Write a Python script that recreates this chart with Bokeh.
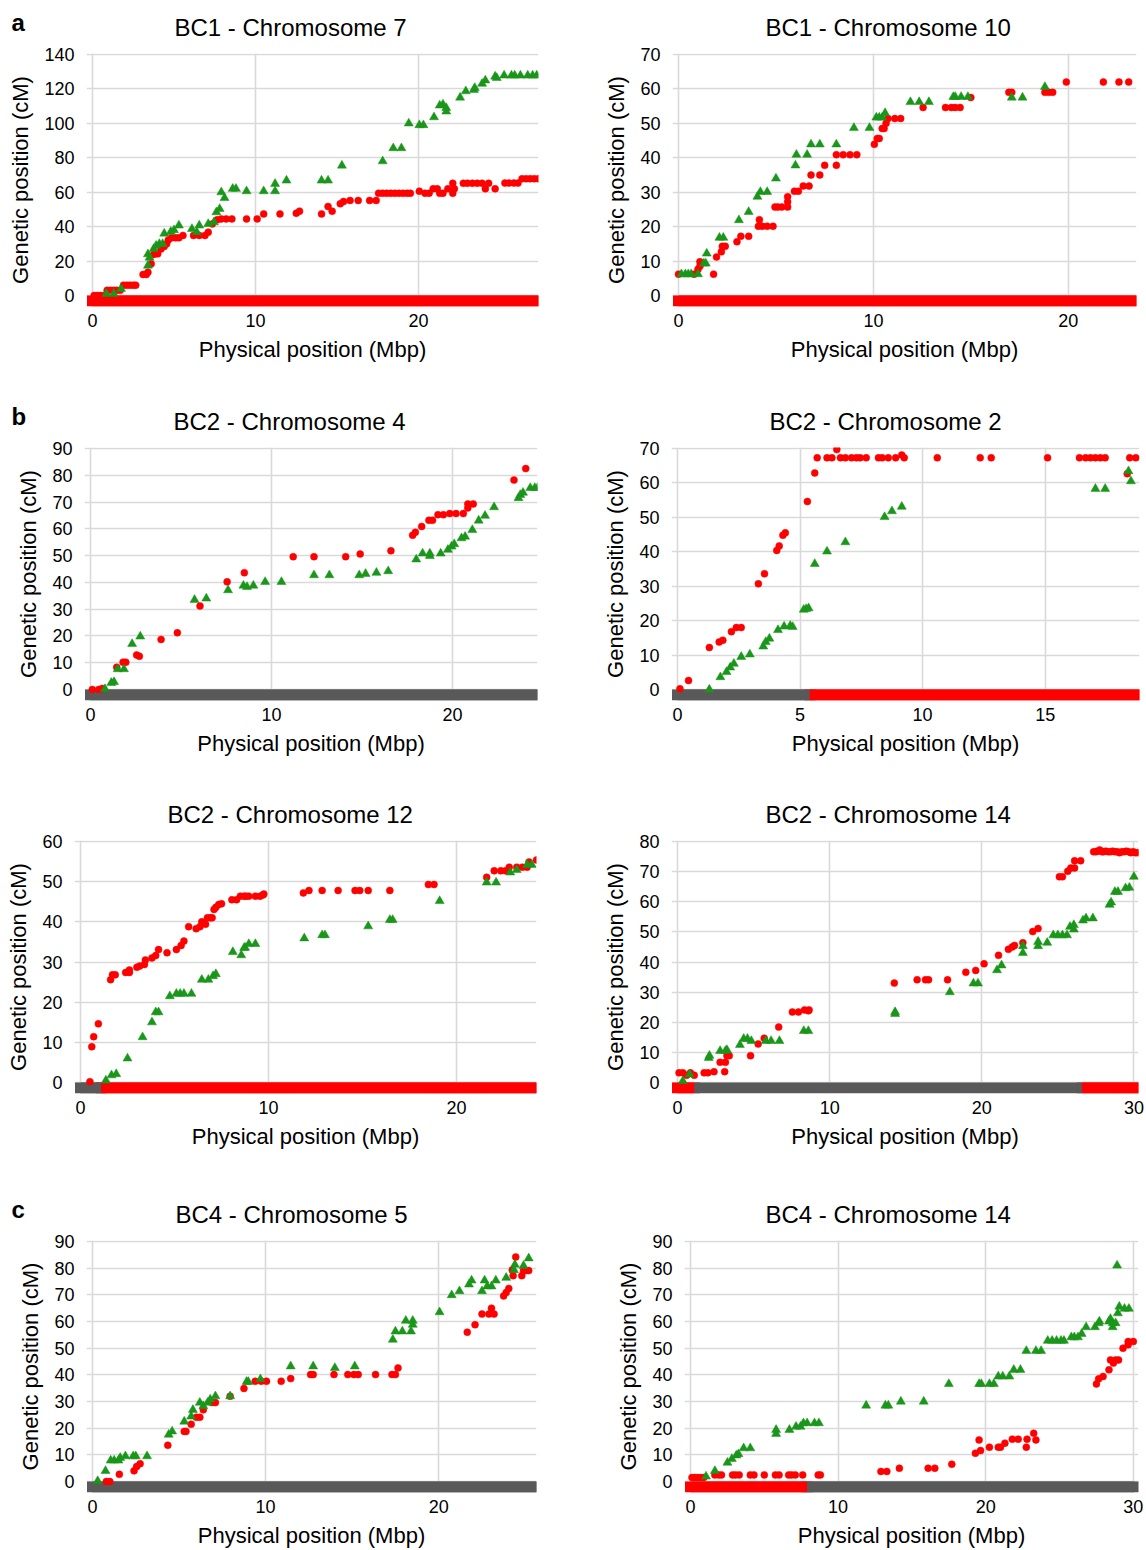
from bokeh.plotting import figure
from bokeh.layouts import column, row
from bokeh.models import FixedTicker, Range1d
from bokeh.core.properties import value
from bokeh.embed import file_html
from bokeh.resources import INLINE

RED = "#ff0000"
GREEN = "#1a961a"
GREY = "#595959"
GRID = "#d9d9d9"
FONT = "Liberation Sans"

# ---------------- data ----------------
# a: BC1 - Chromosome 7
bc1_c7_green_x = [0.85, 1.3, 1.75, 3.4, 3.4, 3.5, 3.75, 3.9, 4.1, 4.3, 4.4, 4.8, 5.0, 5.3, 6.1, 6.4, 6.55, 7.1, 7.45, 7.6,
                  7.8, 7.9, 8.1, 8.6, 8.8, 9.45, 10.5, 11.2, 11.2, 11.9, 14.05, 14.45, 15.3, 17.8, 18.45, 18.95, 19.4,
                  20.05, 20.3, 20.95, 21.3, 21.5, 21.7, 21.7, 22.55, 22.9, 23.4, 23.45, 23.9, 24.1, 24.7, 24.8, 25.25,
                  25.7, 25.9, 26.25, 26.7, 27.0, 27.25]
bc1_c7_green_y = [1, 1, 3.9, 17.4, 24, 22, 27, 29, 30, 30, 36, 37, 38, 40.7, 38.7, 36.8, 40.7, 41.6, 42.6, 48.4,
                  50.3, 60, 56.7, 62, 62, 60.6, 60.6, 60.6, 64.9, 66.8, 66.8, 66.8, 75.5, 78, 85.6, 85.6, 100,
                  99, 99, 103.6, 110.4, 111, 109, 106.9, 115, 118.7, 119.5, 120.6, 123, 125, 127.2, 126.4, 127.8,
                  127.8, 127.8, 127.8, 127.8, 127.8, 127.8]
bc1_c7_red_x = [0.1, 0.3, 0.5, 0.7, 0.9, 1.1, 1.3, 1.5, 1.7, 1.9, 2.1, 2.3, 2.5, 2.65,
                3.1, 3.3, 3.4, 3.6, 3.75, 4.0, 4.2, 4.4, 4.55, 4.65, 4.85, 5.1, 5.3, 5.55, 6.2, 6.55, 6.9, 7.1, 7.35,
                7.65, 7.9, 8.2, 8.55, 9.45, 10.1, 10.5, 11.5, 12.5, 12.7, 14.05, 14.45, 14.7, 15.2, 15.4, 15.8, 16.3,
                17.0, 17.4,
                17.55, 17.8, 18.05, 18.3, 18.55, 18.8, 19.05, 19.3, 19.5,
                20.05,
                20.4, 20.65, 21.3, 21.5,
                20.9, 21.15, 21.8, 22.2,
                22.1, 22.1,
                22.75, 23.0, 23.3, 23.6, 23.9, 24.3,
                24.1, 24.7,
                25.3, 25.55, 25.85, 26.1,
                26.35, 26.6, 26.85, 27.1, 27.35]
bc1_c7_red_y = [0, 0, 0, 0, 3, 3, 3, 3, 3, 6, 6, 6, 6, 6,
                12.2, 12.2, 13.5, 18.4, 23.8, 24.2, 27, 28.5, 30, 32.3, 33.5, 33.5, 33.5, 34.9, 34.9, 34.9, 34.9, 36.8, 41.6,
                44, 44.5, 44.5, 44.5, 44.5, 44.5, 47.4, 47.4, 47.8, 49, 47.4, 51.7, 49, 53.3, 54.6, 55.2, 55.2,
                55.2, 55.2,
                59.4, 59.4, 59.4, 59.4, 59.4, 59.4, 59.4, 59.4, 59.4,
                60.6,
                59.4, 59.4, 59.4, 59.4,
                62, 62, 62, 62,
                65.2, 59.4,
                65.2, 65.2, 65.2, 65.2, 65.2, 65.2,
                62, 62,
                65.3, 65.3, 65.3, 65.3,
                67.8, 67.8, 67.8, 67.8, 67.8]
bc1_c7_seg_start = [0]
bc1_c7_seg_end = [27.36]
bc1_c7_seg_color = [RED]

# a: BC1 - Chromosome 10
bc1_c10_green_x = [0.15, 0.35, 0.5, 0.65, 1.0, 1.3, 1.4, 1.45, 2.1, 2.3, 3.1, 3.6, 4.05, 4.2, 4.55, 5.0, 6.0, 6.05, 6.6,
                   6.8, 7.25, 8.1, 9.0, 9.8, 10.15, 10.3, 10.45, 10.6, 11.9, 12.35, 12.85, 14.1, 14.2, 14.5, 14.85,
                   17.1, 17.65, 18.8]
bc1_c10_green_y = [6.2, 6.2, 6.2, 6.2, 6.2, 9.3, 9.3, 12.2, 16.8, 16.8, 21.9, 24.3, 28.7, 30.1, 30.1, 34, 37.8, 40.9,
                   40.9, 43.9, 43.9, 43.9, 48.7, 48.7, 51.7, 51.7, 51.7, 53, 56.2, 56.2, 56.2, 57.7, 57.7, 57.7, 57.7,
                   57.5, 57.5, 60.6]
bc1_c10_red_x = [0, 0.8, 1.0, 1.1, 1.1, 1.8, 1.95, 2.2, 2.25, 2.4, 3.0, 3.2, 3.6, 4.1, 4.15, 4.3, 4.55, 4.85, 4.95, 5.1,
                 5.3, 5.6, 5.6, 5.6, 5.95, 6.15, 6.4, 6.7, 6.8, 7.25, 7.5, 8.1, 8.1, 8.45, 8.8, 9.15, 10.05, 10.2, 10.3,
                 10.45, 10.55, 10.65, 10.75, 11.1, 11.4, 12.55, 13.7, 14.0, 14.2, 14.45, 15.0, 16.95, 17.1, 18.8, 19.0,
                 19.2, 19.9, 21.8, 22.6, 23.1]
bc1_c10_red_y = [6.2, 6.2, 7.6, 8.5, 9.8, 6.2, 11.2, 12.7, 14.3, 14.3, 15.6, 17.2, 17.2, 20.1, 22, 20.1, 20.1, 20.1,
                 25.7, 25.7, 25.7, 25.7, 27.2, 28.7, 30.3, 30.3, 31.8, 31.8, 35, 35, 37.8, 37.8, 40.9, 40.9, 40.9, 40.9,
                 43.9, 45.6, 45.6, 48.5, 48.5, 50, 51.4, 51.4, 51.4, 54.6, 54.6, 54.6, 54.6, 54.6, 57.5, 59, 59, 59, 59,
                 59, 62, 62, 62, 62]
bc1_c10_seg_start = [0]
bc1_c10_seg_end = [23.5]
bc1_c10_seg_color = [RED]

# b: BC2 - Chromosome 4
bc2_c4_green_x = [0.8, 1.15, 1.3, 1.5, 1.85, 2.3, 2.75, 5.75, 6.4, 7.6, 8.45, 8.65, 9.0, 9.65, 10.55, 12.35, 13.2, 14.85,
                  15.2, 15.8, 16.45, 18.0, 18.35, 18.75, 18.75, 19.35, 19.75, 19.95, 20.1, 20.5, 20.7, 21.1, 21.45,
                  21.8, 22.3, 23.65, 23.75, 23.9, 24.3, 24.55, 24.7]
bc2_c4_green_y = [0.2, 2.5, 2.8, 7.6, 7.6, 17, 19.8, 33.5, 34, 37.1, 38.8, 38.3, 38.8, 40.2, 40.2, 42.7, 42.7, 42.7,
                  43.2, 43.6, 44.2, 48.6, 50.8, 50.8, 49.9, 50.8, 52.2, 53.4, 54.3, 56.5, 57.1, 59.6, 63.1, 64.9, 68.1,
                  71.5, 72.7, 73.5, 75.3, 75.3, 75.3]
bc2_c4_red_x = [0.1, 0.45, 0.65, 1.45, 1.8, 1.95, 2.55, 2.7, 3.9, 4.8, 6.05, 7.55, 8.5, 11.2, 12.35, 14.1, 14.9, 16.6,
                17.8, 17.95, 18.3, 18.7, 18.9, 19.2, 19.5, 19.85, 20.2, 20.6, 20.85, 20.85, 21.15, 23.4, 24.05]
bc2_c4_red_y = [0, 0, 0.4, 8.3, 10.2, 10.2, 12.9, 12.4, 18.7, 21.2, 31.2, 40.2, 43.6, 49.6, 49.6, 49.6, 50.6, 51.8,
                57.6, 58.7, 60.9, 63.2, 63.2, 65.3, 65.3, 65.7, 65.7, 65.7, 67.8, 69.3, 69.3, 78.2, 82.5]
bc2_c4_seg_start = [0]
bc2_c4_seg_end = [24.7]
bc2_c4_seg_color = [GREY]

# b: BC2 - Chromosome 2
bc2_c2_green_x = [1.3, 1.75, 2.0, 2.15, 2.3, 2.6, 2.95, 3.5, 3.6, 3.75, 4.1, 4.35, 4.6, 4.7, 5.15, 5.25, 5.35, 5.6, 6.1,
                  6.85, 8.45, 8.75, 9.15, 17.05, 17.45, 18.4, 18.5]
bc2_c2_green_y = [0, 3.6, 5.1, 6.4, 7.5, 9.5, 10.2, 12.5, 13.8, 14.8, 17.3, 18.3, 18.5, 18.2, 23.2, 23.4, 23.6, 36.5,
                  40.1, 42.8, 50.1, 51.8, 53.1, 58.3, 58.3, 63.4, 60.5]
bc2_c2_red_x = [0.1, 0.45, 1.3, 1.7, 1.85, 2.2, 2.4, 2.6, 3.3, 3.55, 4.05, 4.15, 4.3, 4.4, 5.3, 5.6, 5.7, 6.1, 6.3, 6.5,
                6.65, 6.85, 7.1, 7.3, 7.45, 7.7, 8.2, 8.35, 8.6, 8.9, 9.15, 9.25, 10.6, 12.35, 12.8, 15.1, 16.4, 16.65,
                16.85, 17.05, 17.25, 17.45, 18.35, 18.45, 18.7]
bc2_c2_red_y = [0.2, 2.6, 12.2, 13.8, 14.3, 16.8, 18, 18, 30.7, 33.6, 40.4, 41.7, 44.8, 45.5, 54.6, 62.9, 67.3, 67.3,
                67.3, 69.7, 67.3, 67.3, 67.3, 67.3, 67.3, 67.3, 67.3, 67.3, 67.3, 67.3, 68.1, 67.3, 67.3, 67.3, 67.3,
                67.3, 67.3, 67.3, 67.3, 67.3, 67.3, 67.3, 62.7, 67.3, 67.3]
bc2_c2_seg_start = [0, 5.4]
bc2_c2_seg_end = [5.4, 18.85]
bc2_c2_seg_color = [GREY, RED]

# b: BC2 - Chromosome 12
bc2_c12_green_x = [1.35, 1.65, 1.9, 2.5, 3.3, 3.8, 4.0, 4.15, 4.75, 5.1, 5.3, 5.5, 5.9, 6.45, 6.8, 7.05, 7.2, 8.1, 8.55,
                   8.7, 8.75, 8.95, 9.3, 11.9, 12.85, 13.0, 15.3, 16.45, 16.6, 19.1, 21.6, 22.1, 22.85, 23.2, 23.75,
                   24.0]
bc2_c12_green_y = [0.5, 1.8, 2.1, 6, 11.3, 15, 17.5, 17.5, 21.5, 22.1, 22.1, 22.1, 22.1, 25.6, 25.6, 26.5, 27, 32.5,
                   31.7, 33.5, 33.6, 34.5, 34.5, 35.9, 36.7, 36.7, 38.9, 40.5, 40.5, 45.2, 49.8, 49.8, 52.3, 52.9,
                   54.2, 54.2]
bc2_c12_red_x = [0.5, 0.6, 0.7, 0.95, 1.6, 1.7, 1.85, 2.4, 2.6, 2.6, 3.0, 3.15, 3.4, 3.45, 3.8, 4.0, 4.15, 4.6, 5.1,
                 5.35, 5.5, 5.75, 6.15, 6.35, 6.45, 6.65, 6.75, 6.9, 7.0, 7.1, 7.2, 7.35, 7.5, 8.05, 8.3, 8.5, 8.7, 8.8,
                 8.95, 9.3, 9.55, 9.7, 9.75, 11.85, 12.15, 12.85, 13.7, 14.6, 14.85, 15.3, 16.45, 18.5, 18.8, 21.6,
                 22.0, 22.35, 22.6, 22.8, 23.2, 23.5, 23.75, 23.85, 24.25]
bc2_c12_red_y = [0.2, 8.9, 11.4, 14.6, 25.6, 26.8, 26.8, 27.4, 27.4, 28, 28.7, 29, 29.4, 30.5, 31, 31.6, 33.1, 32.3,
                 33.1, 34.1, 35.2, 38.8, 38.3, 38.8, 40, 39.4, 41, 41, 41, 43.1, 43.6, 44.3, 44.5, 45.5, 45.5, 46.4,
                 46.4, 46.4, 46.4, 46.4, 46.4, 46.7, 46.9, 47.2, 47.8, 47.8, 47.8, 47.8, 47.8, 47.8, 47.8, 49.3, 49.3,
                 51.1, 52.7, 52.7, 52.7, 53.6, 53.6, 53.6, 53.6, 54.9, 55.4]
bc2_c12_seg_start = [0, 1.1]
bc2_c12_seg_end = [1.1, 24.25]
bc2_c12_seg_color = [GREY, RED]

# b: BC2 - Chromosome 14
bc2_c14_green_x = [0.35, 0.8, 2.05, 2.1, 2.8, 3.15, 3.25, 4.1, 4.35, 4.6, 4.85, 5.8, 6.15, 6.7, 8.3, 8.6, 14.3, 14.3,
                   17.9, 19.45, 19.75, 21.0, 21.3, 22.7, 22.7, 23.7, 23.7, 24.3, 24.7, 25.0, 25.3, 25.6, 25.8, 26.05,
                   26.05, 26.65, 26.85, 27.3, 28.4, 28.5, 28.75, 28.95, 29.45, 29.7, 30.0]
bc2_c14_green_y = [0.5, 2.7, 8.2, 8.9, 10.5, 10.5, 10.8, 12.5, 14.5, 14.5, 13.8, 13.8, 13.8, 13.8, 17.1, 17.1, 23.4,
                   22.8, 30, 32.9, 32.9, 37.3, 38.9, 43, 45.3, 45.3, 46.7, 46.4, 48.9, 48.9, 48.9, 48.9, 51.7, 50.8,
                   52.3, 53.8, 54.5, 54.5, 59, 59.8, 63.3, 63.3, 64.5, 64.7, 68.3]
bc2_c14_red_x = [0.1, 0.35, 0.6, 0.85, 1.1, 1.75, 2.0, 2.4, 2.8, 3.1, 3.15, 3.25, 3.4, 4.8, 5.3, 5.7, 6.65, 7.55, 7.95,
                 8.35, 8.6, 8.65, 14.25, 15.75, 16.3, 16.5, 17.75, 18.95, 19.6, 20.15, 21.1, 21.75, 22.0, 22.15, 22.7,
                 23.35, 23.7, 25.1, 25.3, 25.65, 25.85, 26.1, 26.1, 26.5, 27.35, 27.5, 27.6, 27.75, 27.9, 28.0, 28.15,
                 28.3, 28.45, 28.6, 28.75, 28.9, 29.05, 29.2, 29.35, 29.5, 29.65, 29.8, 29.95, 30.1, 30.25]
bc2_c14_red_y = [3.2, 3.2, 2.4, 3.2, 2.4, 3.2, 3.2, 3.6, 6.7, 3.6, 6.7, 8.9, 8.9, 8.9, 12.8, 14.7, 18.4, 23.4, 23.4,
                 24.1, 23.8, 24.1, 33, 34.1, 34.1, 34.1, 34.1, 36.6, 37.2, 39.4, 42.2, 44.2, 45, 45.5, 46.4, 50.1,
                 51.1, 68.3, 68.3, 70.1, 71.2, 71.2, 73.6, 73.6, 76.6, 76.6, 76.8, 77.2, 76.6, 76.6, 76.8, 76.6, 76.6,
                 76.8, 76.6, 76.6, 76.3, 76.6, 76.6, 76.8, 76.6, 76.3, 76.6, 76.3, 76.3]
bc2_c14_seg_start = [0, 1.1, 26.6]
bc2_c14_seg_end = [1.1, 26.6, 30.3]
bc2_c14_seg_color = [RED, GREY, RED]

# c: BC4 - Chromosome 5
bc4_c5_green_x = [0.3, 0.75, 1.05, 1.25, 1.5, 1.6, 1.9, 2.35, 2.5, 3.15, 4.4, 4.6, 5.3, 5.7, 5.8, 6.2, 6.4, 6.65, 6.8,
                  7.1, 7.95, 8.9, 9.0, 9.7, 11.45, 12.75, 14.0, 15.15, 17.35, 17.5, 17.9, 18.1, 18.4, 18.5, 18.5,
                  20.05, 20.75, 21.2, 21.75, 21.9, 22.5, 22.65, 22.8, 23.05, 23.3, 23.9, 24.35, 24.4, 24.9, 25.2]
bc4_c5_green_y = [0.2, 4, 7.9, 7.9, 7.9, 8.9, 9.5, 9.5, 9.5, 9.5, 17.6, 18.8, 22.5, 24.4, 26.9, 29.6, 28.3, 29.6, 30.8,
                  32, 32, 37.4, 37.4, 38.4, 43.2, 43.2, 42.6, 43.2, 53.2, 56.3, 56.3, 60.3, 56.3, 60.3, 58.8, 63.5,
                  69.9, 71.4, 73.9, 75.4, 71.4, 75.4, 73.2, 73.2, 75.4, 76.4, 79.3, 81.3, 80.9, 83.7]
bc4_c5_red_x = [0.8, 1.0, 1.55, 2.4, 2.55, 2.75, 4.35, 5.3, 5.4, 5.7, 6.0, 6.2, 6.4, 6.9, 7.1, 7.95, 8.75, 9.4, 9.75,
                10.05, 10.9, 11.45, 12.6, 12.75, 13.95, 14.75, 15.1, 15.35, 16.35, 17.3, 17.5, 17.65, 21.65, 22.1,
                22.5, 22.9, 23.05, 23.2, 23.75, 23.9, 24.05, 24.25, 24.3, 24.45, 24.8, 24.9, 25.05, 25.2]
bc4_c5_red_y = [0, 0, 2.7, 4, 5.6, 6.7, 13.6, 18.8, 18.8, 21.5, 24.1, 24.1, 26.9, 29.6, 29.6, 32, 34.9, 37.6, 37.6,
                37.6, 37.6, 38.6, 40.1, 40.1, 40.1, 40.1, 40.1, 40.1, 40.1, 40.1, 40.1, 42.6, 56, 58.8, 62.8, 62.8,
                65, 62.8, 69.6, 70.9, 72.4, 79.3, 77.2, 84.2, 77.2, 79.1, 79.1, 79.1]
bc4_c5_seg_start = [0]
bc4_c5_seg_end = [25.65]
bc4_c5_seg_color = [GREY]

# c: BC4 - Chromosome 14
bc4_c14_green_x = [1.05, 1.65, 2.5, 2.8, 3.1, 3.25, 3.6, 4.05, 5.8, 5.8, 6.7, 7.15, 7.45, 7.65, 7.9, 8.4, 8.7, 11.9,
                   13.2, 13.4, 14.25, 15.8, 17.5, 19.55, 19.7, 20.25, 20.55, 20.85, 21.15, 21.6, 21.9, 22.35, 22.75,
                   23.4, 23.75, 24.2, 24.5, 24.8, 25.1, 25.3, 25.8, 26.0, 26.25, 26.5, 26.8, 27.4, 27.65, 27.7, 28.35,
                   28.45, 28.6, 28.6, 28.8, 28.9, 28.95, 29.05, 29.4, 29.7]
bc4_c14_green_y = [1.9, 4, 7.1, 8.5, 9.8, 10.3, 12.5, 12.5, 17.9, 19.4, 19.4, 20.6, 20.6, 21.9, 21.9, 21.9, 21.9, 28.5,
                   28.5, 28.5, 30, 30, 36.6, 36.6, 36.6, 36.6, 36.6, 39.4, 39.4, 39.4, 41.9, 41.9, 49, 49, 49, 52.8,
                   52.8, 52.8, 52.8, 52.8, 54.1, 54.1, 54.1, 55.4, 57.9, 57.9, 59.4, 60, 60, 61, 57.9, 59.4, 59.4, 81,
                   63.1, 65.6, 64.8, 64.8]
bc4_c14_red_x = [0.1, 0.3, 0.5, 0.7, 0.9, 1.65, 1.9, 2.1, 2.85, 3.05, 3.3, 4.05, 4.3, 5.0, 5.75, 6.0, 6.65, 6.85, 7.1,
                 7.6, 8.65, 8.8, 12.9, 13.3, 14.15, 16.1, 16.55, 17.7, 19.3, 19.55, 19.65, 20.25, 20.85, 21.0, 21.3,
                 21.8, 22.2, 22.75, 22.8, 23.25, 23.4, 27.5, 27.65, 27.95, 28.35, 28.45, 28.65, 28.8, 29.0, 29.3,
                 29.65, 29.65, 30.0]
bc4_c14_red_y = [1.5, 1.5, 1.5, 1.5, 1.5, 2.5, 2.5, 2.5, 2.5, 2.5, 2.5, 2.5, 2.5, 2.5, 2.5, 2.5, 2.5, 2.5, 2.5,
                 2.5, 2.5, 2.5, 3.8, 3.8, 5, 5, 5, 6.5, 10.6, 15.6, 11.6, 12.9, 12.9, 12.9, 14.4,
                 15.9, 15.9, 12.9, 15.9, 18.1, 15.6, 36.6, 38.5, 39.4, 41.9, 45.6, 44.4, 45.6, 45.6, 50,
                 51.3, 52.5, 52.5]
bc4_c14_seg_start = [0, 7.9]
bc4_c14_seg_end = [7.9, 30.05]
bc4_c14_seg_color = [RED, GREY]

titles = ["BC1 - Chromosome 7", "BC1 - Chromosome 10", "BC2 - Chromosome 4", "BC2 - Chromosome 2",
          "BC2 - Chromosome 12", "BC2 - Chromosome 14", "BC4 - Chromosome 5", "BC4 - Chromosome 14"]
y_max = [140, 70, 90, 70, 60, 80, 90, 90]
y_step = [20, 10, 10, 10, 10, 10, 10, 10]
x_ticks = [[0, 10, 20], [0, 10, 20], [0, 10, 20], [0, 5, 10, 15], [0, 10, 20], [0, 10, 20, 30],
           [0, 10, 20], [0, 10, 20, 30]]
x_max = [27.36, 23.5, 24.7, 18.85, 24.25, 30.3, 25.65, 30.35]
row_letters = ["a", "b", None, "c"]

green_sets = [(bc1_c7_green_x, bc1_c7_green_y), (bc1_c10_green_x, bc1_c10_green_y),
              (bc2_c4_green_x, bc2_c4_green_y), (bc2_c2_green_x, bc2_c2_green_y),
              (bc2_c12_green_x, bc2_c12_green_y), (bc2_c14_green_x, bc2_c14_green_y),
              (bc4_c5_green_x, bc4_c5_green_y), (bc4_c14_green_x, bc4_c14_green_y)]
red_sets = [(bc1_c7_red_x, bc1_c7_red_y), (bc1_c10_red_x, bc1_c10_red_y),
            (bc2_c4_red_x, bc2_c4_red_y), (bc2_c2_red_x, bc2_c2_red_y),
            (bc2_c12_red_x, bc2_c12_red_y), (bc2_c14_red_x, bc2_c14_red_y),
            (bc4_c5_red_x, bc4_c5_red_y), (bc4_c14_red_x, bc4_c14_red_y)]
seg_sets = [(bc1_c7_seg_start, bc1_c7_seg_end, bc1_c7_seg_color),
            (bc1_c10_seg_start, bc1_c10_seg_end, bc1_c10_seg_color),
            (bc2_c4_seg_start, bc2_c4_seg_end, bc2_c4_seg_color),
            (bc2_c2_seg_start, bc2_c2_seg_end, bc2_c2_seg_color),
            (bc2_c12_seg_start, bc2_c12_seg_end, bc2_c12_seg_color),
            (bc2_c14_seg_start, bc2_c14_seg_end, bc2_c14_seg_color),
            (bc4_c5_seg_start, bc4_c5_seg_end, bc4_c5_seg_color),
            (bc4_c14_seg_start, bc4_c14_seg_end, bc4_c14_seg_color)]

# ---------------- layout (pixels) ----------------
W = 573
HDR = 42                     # header strip (titles / panel letters) per row
row_heights = [394, 393, 400, 363]
zero_px = [92, 105, 90, 104, 80, 104, 92, 117]          # x = 0 position inside each figure
px_per_mb = [16.3, 19.5, 18.1, 24.53, 18.8, 15.2, 17.3, 14.75]
title_left = [174, 192, 173, 196, 167, 192, 175, 192]   # left edge of each title inside its figure
TITLE_Y = 27     # title middle, px from row top
LETTER_X = 11
LETTER_Y = 22
PAD = 6          # frame starts PAD px left of x = 0
TOP = 53         # frame top, px from row top
SPAN = 241       # px between y = 0 and y = max
BELOW = 11       # px below y = 0 inside frame
BAR_W = 11


def make_panel(i, H):
    ymax = y_max[i]
    unit = ymax / SPAN
    ppm = px_per_mb[i]
    left = zero_px[i] - PAD
    frame_w = PAD + x_max[i] * ppm
    right_border = int(round(W - left - frame_w))
    frame_h = SPAN + BELOW + 1
    top = TOP - HDR
    p = figure(width=W, height=H - HDR, output_backend="svg", toolbar_location=None,
               x_range=Range1d(-PAD / ppm, x_max[i]),
               y_range=Range1d(-BELOW * unit, ymax + unit),
               min_border_left=left, min_border_right=max(right_border, 0),
               min_border_top=top, min_border_bottom=H - HDR - top - frame_h,
               background_fill_color="white", border_fill_color="white")
    p.outline_line_color = None

    yt = list(range(0, ymax + 1, y_step[i]))
    p.xaxis.ticker = FixedTicker(ticks=x_ticks[i])
    p.yaxis.ticker = FixedTicker(ticks=yt)
    p.xgrid.ticker = FixedTicker(ticks=x_ticks[i])
    p.ygrid.ticker = FixedTicker(ticks=yt)
    for g in (p.xgrid, p.ygrid):
        g.grid_line_color = GRID
        g.grid_line_width = 1.6
    for ax in (p.xaxis, p.yaxis):
        ax.axis_line_color = None
        ax.major_tick_line_color = None
        ax.minor_tick_line_color = None
        ax.major_tick_out = 0
        ax.major_tick_in = 0
        ax.major_label_text_font = FONT
        ax.major_label_text_font_size = "18px"
        ax.major_label_text_color = "black"
        ax.axis_label_text_font = FONT
        ax.axis_label_text_font_size = "22px"
        ax.axis_label_text_font_style = "normal"
        ax.axis_label_text_color = "black"
    p.xaxis.axis_label = "Physical position (Mbp)"
    p.yaxis.axis_label = "Genetic position (cM)"
    p.xaxis.major_label_standoff = 7
    p.yaxis.major_label_standoff = 12
    p.xaxis.axis_label_standoff = 7
    p.yaxis.axis_label_standoff = 8

    # chromosome bar
    s0, s1, sc = seg_sets[i]
    bar_y = -(BAR_W / 2) * unit
    n = len(s0)
    ends_idx = [0, n - 1] if n > 1 else [0]
    p.segment(x0=[s0[k] for k in ends_idx], x1=[s1[k] for k in ends_idx],
              y0=[bar_y] * len(ends_idx), y1=[bar_y] * len(ends_idx),
              line_color=[sc[k] for k in ends_idx], line_width=BAR_W, line_cap="square")
    p.segment(x0=s0, x1=s1, y0=[bar_y] * n, y1=[bar_y] * n,
              line_color=sc, line_width=BAR_W, line_cap="butt")

    rx, ry = red_sets[i]
    gx, gy = green_sets[i]
    p.scatter(rx, ry, marker="circle", size=7, fill_color=RED, line_color=RED, line_width=0.5)
    p.scatter(gx, gy, marker="triangle", size=9, fill_color=GREEN, line_color=GREEN, line_width=0.5)
    return p


def make_header(r):
    h = figure(width=2 * W, height=HDR, output_backend="svg", toolbar_location=None,
               x_range=Range1d(0, 2 * W), y_range=Range1d(0, HDR),
               x_axis_type=None, y_axis_type=None,
               min_border_left=0, min_border_right=0, min_border_top=0, min_border_bottom=0,
               background_fill_color="white", border_fill_color="white")
    h.grid.visible = False
    h.outline_line_color = None
    i0, i1 = 2 * r, 2 * r + 1
    h.text(x=[title_left[i0], W + title_left[i1]], y=[HDR - TITLE_Y, HDR - TITLE_Y],
           text=[titles[i0], titles[i1]], text_font=value(FONT), text_font_size="24px",
           text_color="black", text_align="left", text_baseline="middle")
    if row_letters[r]:
        h.text(x=[LETTER_X], y=[HDR - LETTER_Y], text=[row_letters[r]], text_font=value(FONT),
               text_font_size="24px", text_font_style="bold", text_color="black",
               text_align="left", text_baseline="middle")
    return h


blocks = []
for r in range(4):
    H = row_heights[r]
    blocks.append(make_header(r))
    blocks.append(row(make_panel(2 * r, H), make_panel(2 * r + 1, H), spacing=0))

layout = column(*blocks, spacing=0)

open("out.html", "w").write(file_html(layout, INLINE))
